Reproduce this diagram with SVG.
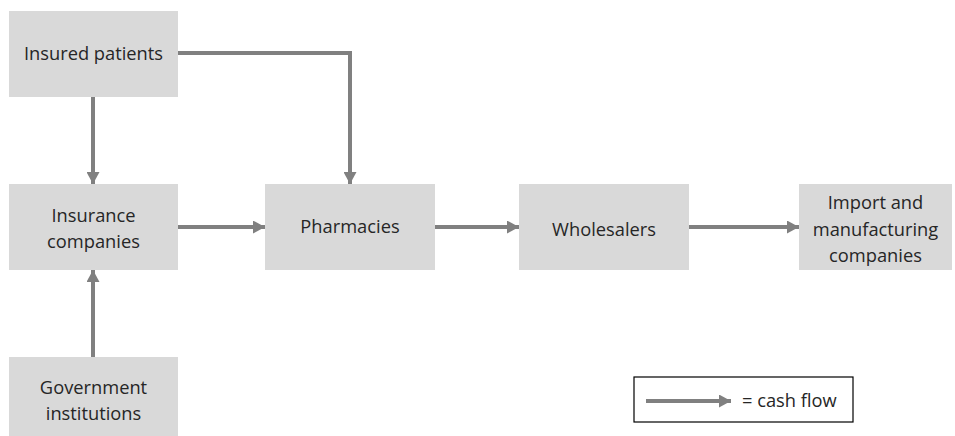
<svg xmlns="http://www.w3.org/2000/svg" width="955" height="436" viewBox="0 0 955 436">
<defs>
<style>
.box{fill:#d9d9d9;}
.lbl{font-family:"Open Sans","DejaVu Sans",sans-serif;font-size:18.3px;fill:#262626;text-anchor:middle;}
.con{stroke:#808080;stroke-width:4;fill:none;}
</style>
<marker id="ah" markerUnits="userSpaceOnUse" markerWidth="13" markerHeight="13" refX="12" refY="6.5" orient="auto">
<path d="M0,0 L12,6.5 L0,13 Z" fill="#808080"/>
</marker>
</defs>
<rect width="955" height="436" fill="#ffffff"/>
<g id="insured-patients">
<rect class="box" x="9" y="11" width="169" height="86"/>
<text class="lbl" x="93.5" y="60">Insured patients</text>
</g>
<g id="insurance-companies">
<rect class="box" x="9" y="184" width="169" height="86"/>
<text class="lbl" x="93.5" y="222">Insurance</text>
<text class="lbl" x="93.5" y="248">companies</text>
</g>
<g id="pharmacies">
<rect class="box" x="265" y="184" width="170" height="86"/>
<text class="lbl" x="350" y="233">Pharmacies</text>
</g>
<g id="wholesalers">
<rect class="box" x="519" y="184" width="170" height="86"/>
<text class="lbl" x="604" y="236">Wholesalers</text>
</g>
<g id="import-manufacturing">
<rect class="box" x="799" y="184" width="153" height="86"/>
<text class="lbl" x="875.5" y="209">Import and</text>
<text class="lbl" x="875.5" y="236">manufacturing</text>
<text class="lbl" x="875.5" y="262">companies</text>
</g>
<g id="government-institutions">
<rect class="box" x="9" y="357" width="169" height="79"/>
<text class="lbl" x="93.5" y="394">Government</text>
<text class="lbl" x="93.5" y="420">institutions</text>
</g>
<g id="connectors">
<line class="con" x1="93" y1="97" x2="93" y2="184" marker-end="url(#ah)"/>
<polyline class="con" points="178,53 350,53 350,184" marker-end="url(#ah)"/>
<line class="con" x1="178" y1="227" x2="265" y2="227" marker-end="url(#ah)"/>
<line class="con" x1="435" y1="227" x2="519" y2="227" marker-end="url(#ah)"/>
<line class="con" x1="689" y1="227" x2="799" y2="227" marker-end="url(#ah)"/>
<line class="con" x1="93" y1="357" x2="93" y2="270" marker-end="url(#ah)"/>
</g>
<g id="legend">
<rect x="634" y="377" width="219" height="45" fill="#ffffff" stroke="#000000" stroke-width="1.2"/>
<line class="con" x1="646" y1="401" x2="731" y2="401" marker-end="url(#ah)"/>
<text x="742" y="407" font-family="Open Sans, DejaVu Sans, sans-serif" font-size="18.3" fill="#262626">= cash flow</text>
</g>
</svg>
